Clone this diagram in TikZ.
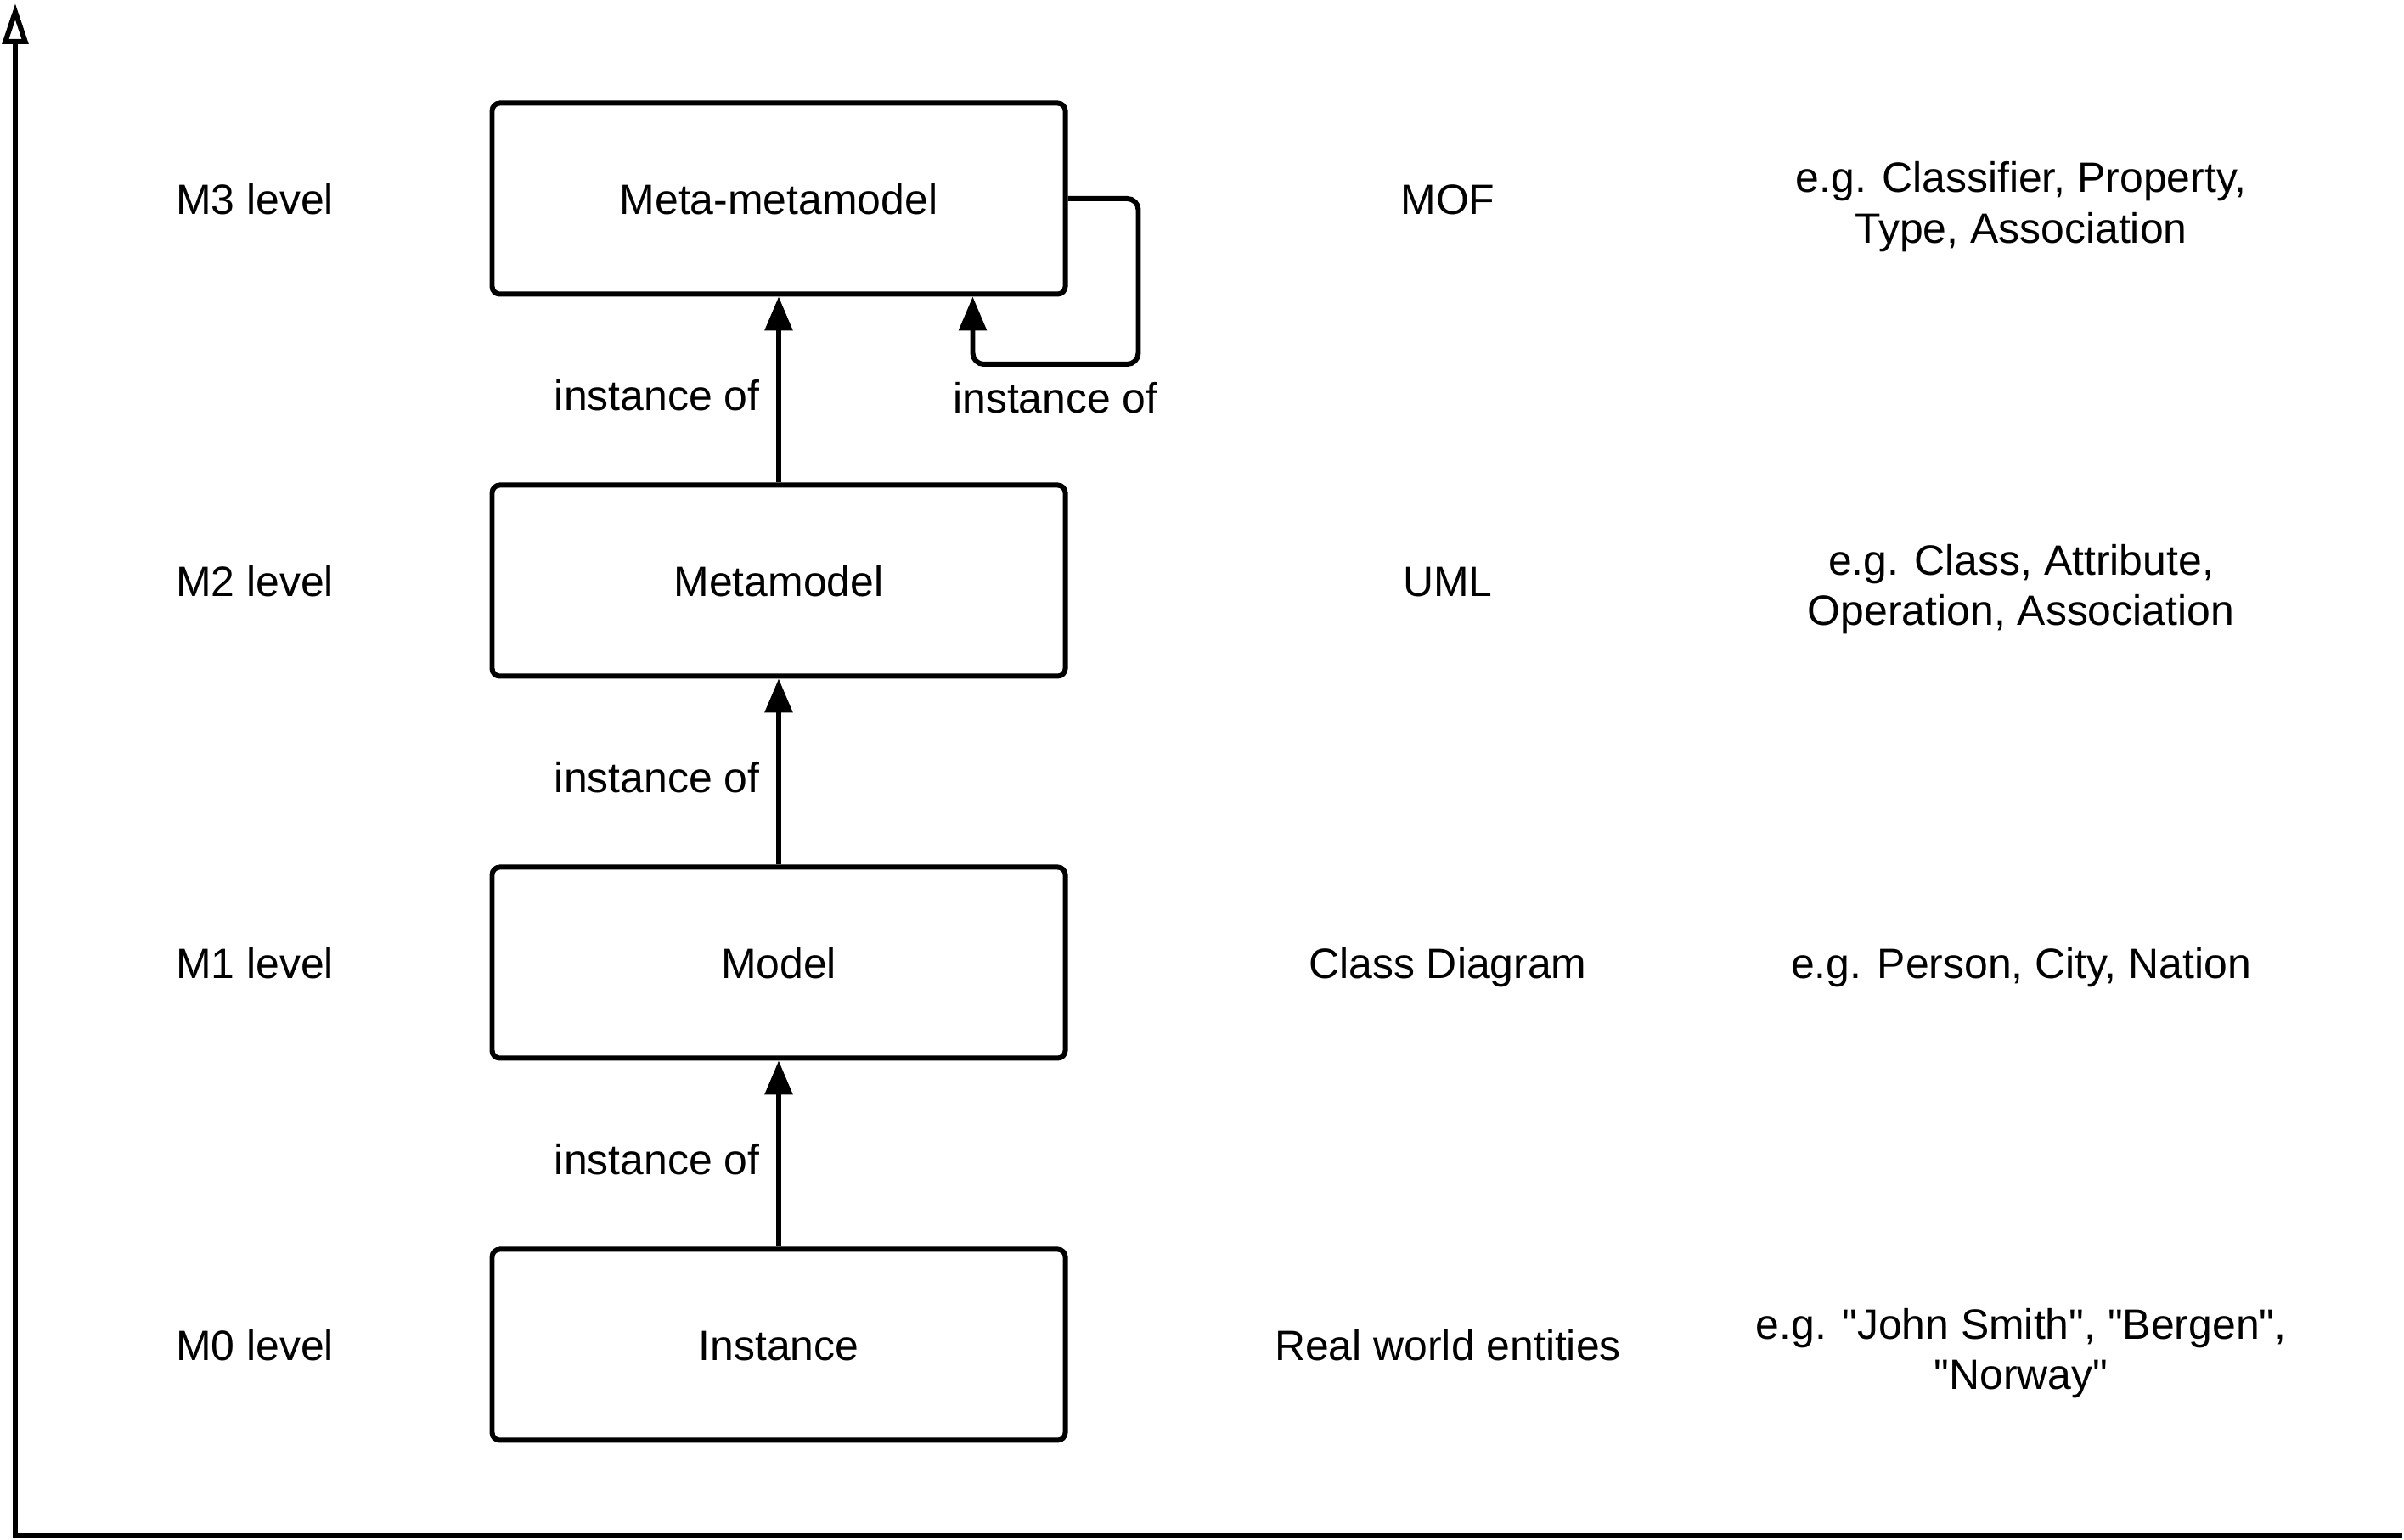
\documentclass[tikz,border=0pt]{standalone}
\usepackage{fontspec}
\setmainfont{Liberation Sans}
\usetikzlibrary{arrows.meta,positioning,calc}

\begin{document}
\begin{tikzpicture}[
		font=\fontsize{14.2}{17}\selectfont,
		txt/.style={text height=1.05em, text depth=0em},
		lvlbox/.style={draw, txt, line width=1.7pt, rounded corners=0.09cm, minimum width=6.75cm, minimum height=2.25cm},
		twoline/.style={align=center, yshift=-0.10cm},
		inst/.style={line width=1.7pt, -{Triangle[length=0.40cm, width=0.32cm]}},
		axisline/.style={line width=1.7pt, line join=miter, -{Triangle[open, length=0.48cm, width=0.30cm]}}
	]
	\useasboundingbox (0,0) rectangle (28.31,18.14);
	% axis
	\coordinate (xend) at (28.29,0.045);
	\coordinate (corner) at (0.18,0.045);
	\coordinate (yend) at (0.18,18.10);
	\draw[axisline] (xend) -- (corner) -- (yend);
	% model levels
	\node[lvlbox] (inst) at (9.17,2.3) {Instance};
	\node[lvlbox] (mdl) at (9.17,6.8) {Model};
	\node[lvlbox] (meta) at (9.17,11.3) {Metamodel};
	\node[lvlbox] (mmeta) at (9.17,15.8) {Meta-metamodel};
	\draw[inst] (inst.north) -- (mdl.south) node[txt, midway, left=0.08cm, yshift=-0.06cm] {instance of};
	\draw[inst] (mdl.north) -- (meta.south) node[txt, midway, left=0.08cm, yshift=-0.06cm] {instance of};
	\draw[inst] (meta.north) -- (mmeta.south) node[txt, midway, left=0.08cm, yshift=-0.06cm] {instance of};
	\draw[inst, rounded corners=0.13cm] (mmeta.east) -- ++(0.83,0) -- ++(0,-1.95) -- ++(-1.95,0) coordinate (loopend) node[txt, midway, below=0.06cm] {instance of} -- (loopend |- mmeta.south);
	% left column
	\node[txt] (lvl0) at (3.0,2.3) {M0 level};
	\node[txt] (lvl1) at (3.0,6.8) {M1 level};
	\node[txt] (lvl2) at (3.0,11.3) {M2 level};
	\node[txt] (lvl3) at (3.0,15.8) {M3 level};
	% right columns
	\node[txt] (ex0) at (17.05,2.3) {Real world entities};
	\node[txt] (ex1) at (17.05,6.8) {Class Diagram};
	\node[txt] (ex2) at (17.05,11.3) {UML};
	\node[txt] (ex3) at (17.05,15.8) {MOF};
	\node[twoline] (eg0) at (23.80,2.3) {e.g. \textquotedbl John Smith\textquotedbl, \textquotedbl Bergen\textquotedbl,\\\textquotedbl Norway\textquotedbl};
	\node[txt] (eg1) at (23.80,6.8) {e.g. Person, City, Nation};
	\node[twoline] (eg2) at (23.80,11.3) {e.g. Class, Attribute,\\Operation, Association};
	\node[twoline] (eg3) at (23.80,15.8) {e.g. Classifier, Property,\\Type, Association};
\end{tikzpicture}
\end{document}
